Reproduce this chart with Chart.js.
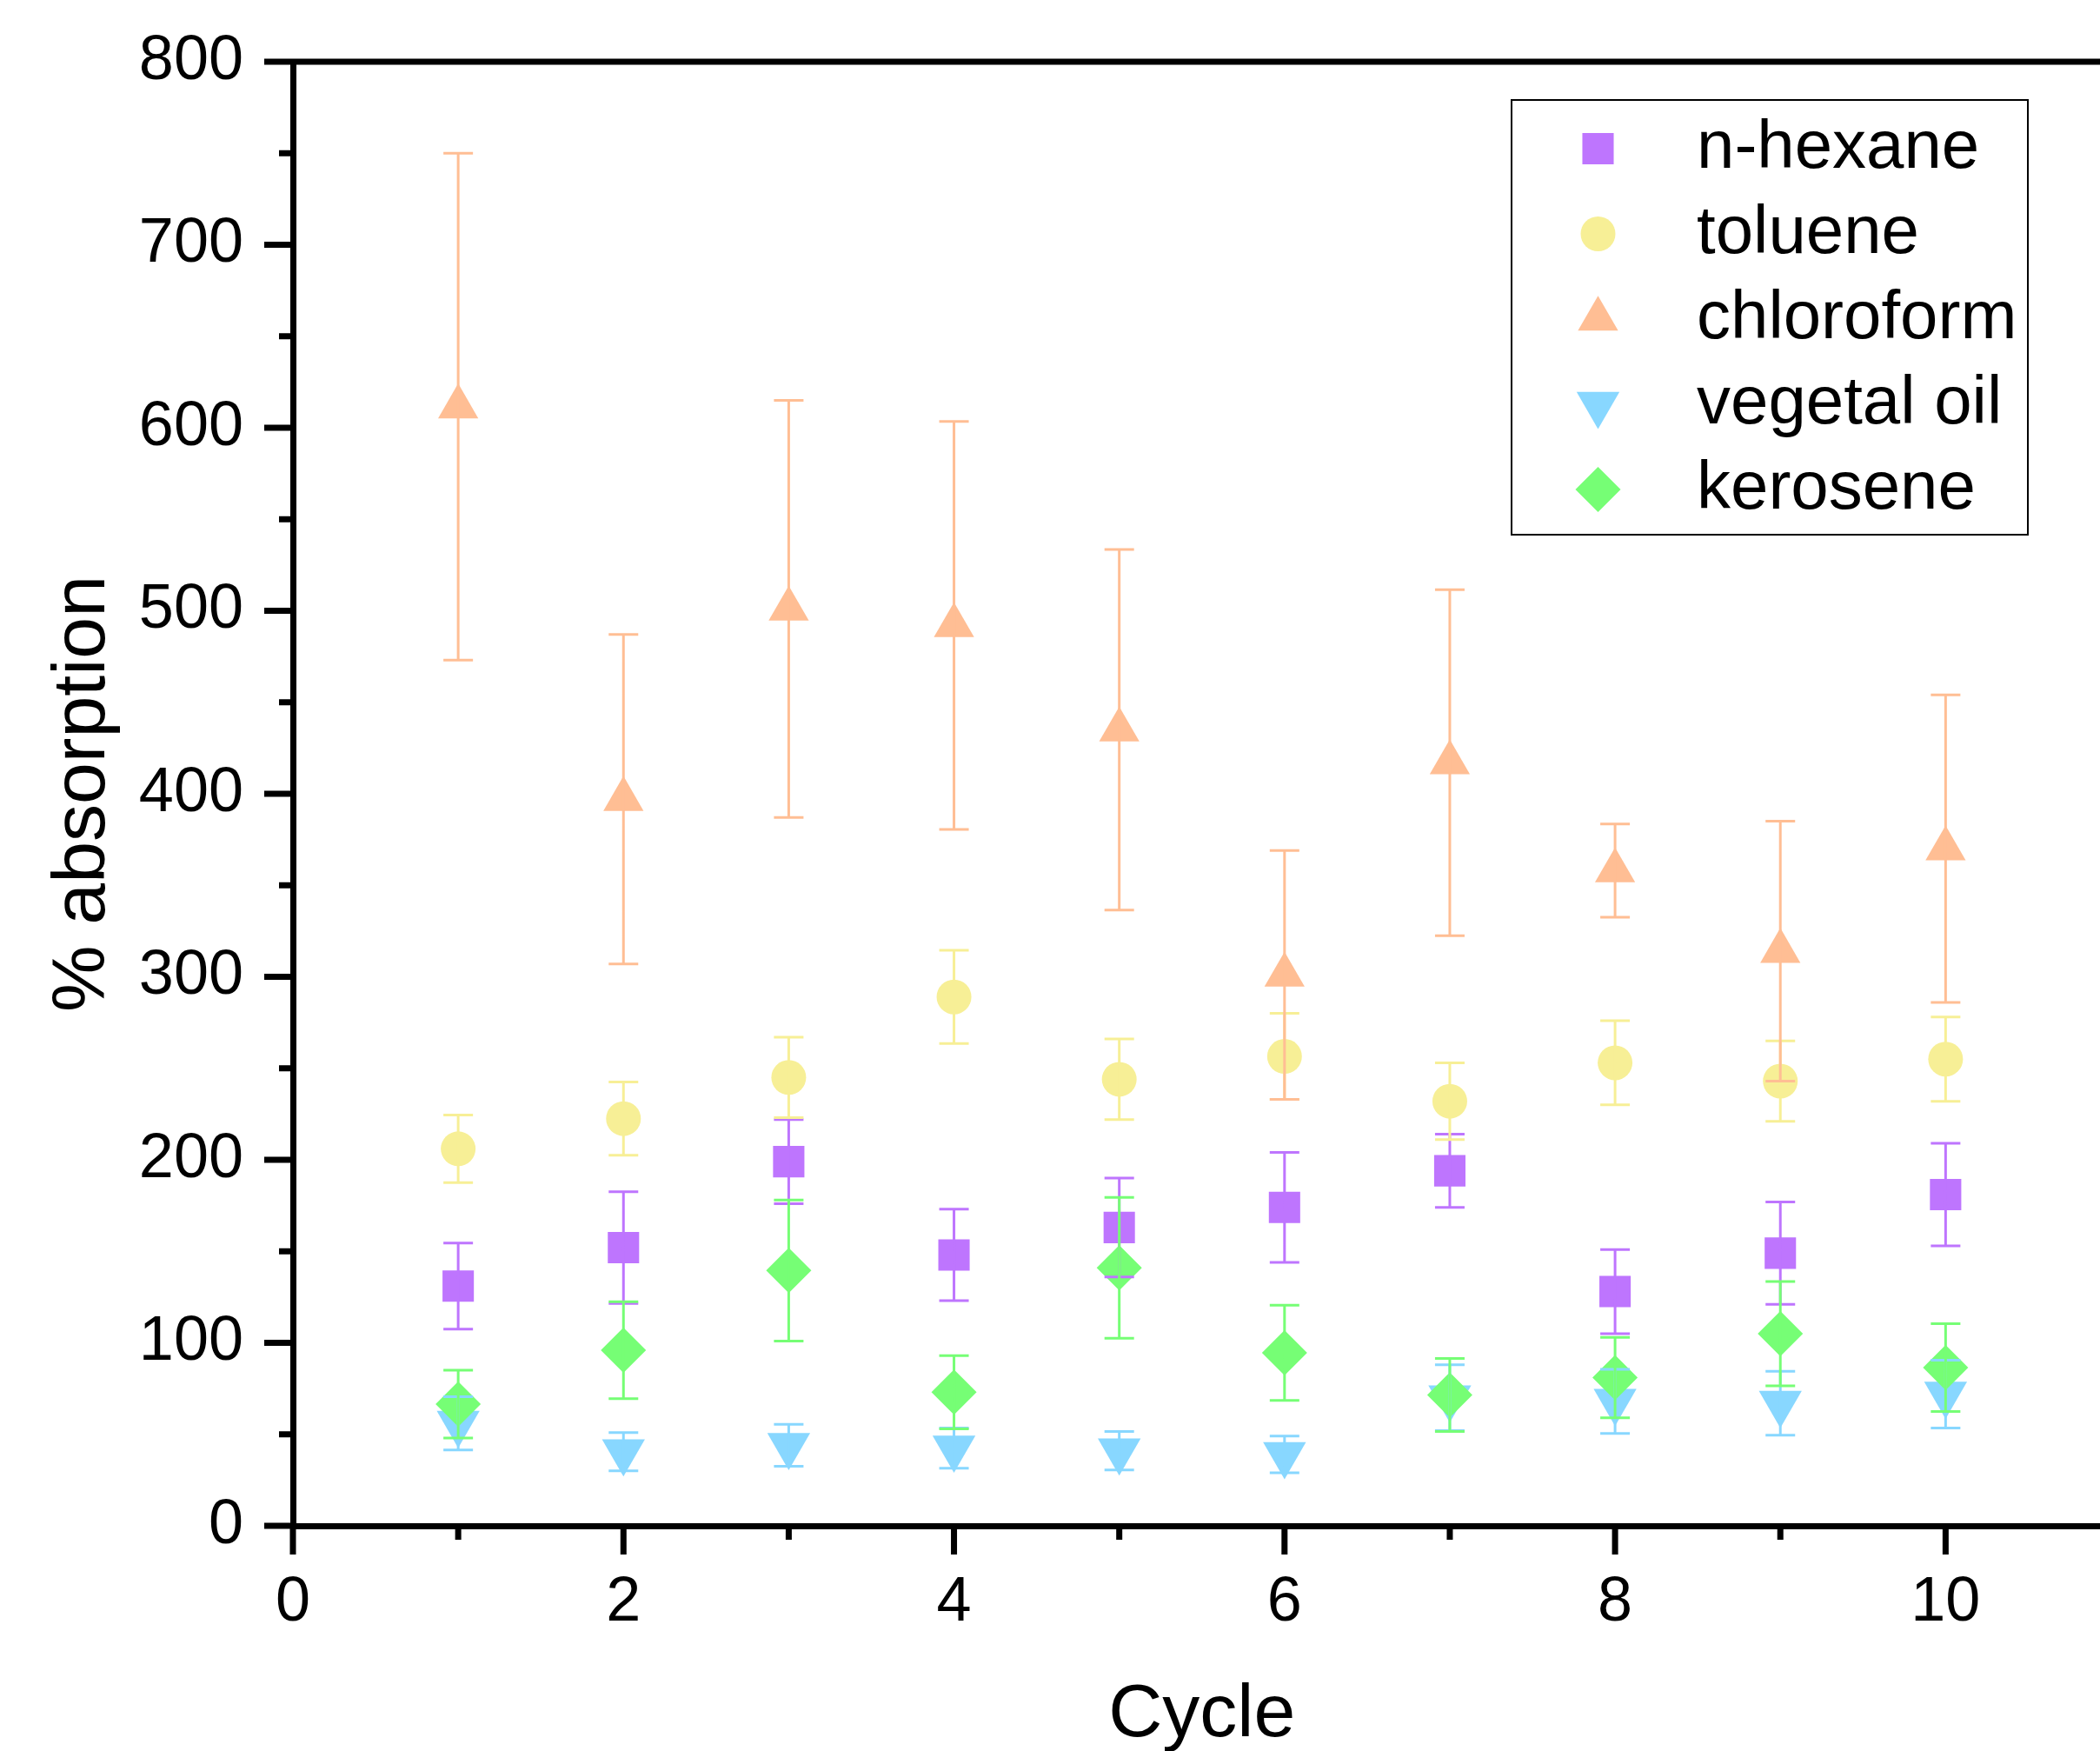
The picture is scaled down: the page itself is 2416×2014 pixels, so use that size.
<!DOCTYPE html>
<html>
<head>
<meta charset="utf-8">
<script src="https://cdn.jsdelivr.net/npm/chart.js@4"></script>
<style>
  html, body { margin: 0; padding: 0; background: #fff; overflow: hidden; }
  #frame { width: 2416px; height: 2014px; overflow: hidden; }
</style>
</head>
<body>
<div id="frame"><canvas id="chart" width="2457" height="2014"></canvas></div>
<script>
const cycles = [1, 2, 3, 4, 5, 6, 7, 8, 9, 10];

const nHexane = [131, 152, 199, 148, 163, 174, 194, 128, 149, 181];
const nHexaneErr = [23.5, 30.5, 23, 25, 27, 30, 20, 23, 28, 28];

const toluene = [206, 222.5, 245, 289, 244, 256.5, 232, 253, 243, 255];
const tolueneErr = [18.5, 20, 22, 25.5, 22, 23.5, 21, 23, 22, 23];

const chloroform = [611.5, 397, 501, 492, 435, 301, 417, 358, 314, 370];
const chloroformErr = [138.5, 90, 114, 111.5, 98.5, 68, 94.5, 25.5, 71, 84];

const vegetalOil = [56, 40.5, 44, 42.5, 41, 39, 70, 68, 67, 72];
const vegetalOilErr = [14.5, 10.5, 11.5, 11, 10.5, 10, 18, 17.5, 17.5, 18.5];

const kerosene = [66.5, 96, 139.5, 73, 141, 94.5, 71.5, 81, 105, 86.5];
const keroseneErr = [18.5, 26.5, 38.5, 20, 38.5, 26, 20, 22, 28.5, 24];

const FONT = '"Liberation Sans", Arial, sans-serif';

function series(label, values, errors, color, style, radius, rotation, order) {
    return {
        label: label,
        data: cycles.map((c, i) => ({ x: c, y: values[i] })),
        err: errors,
        backgroundColor: color,
        borderColor: color,
        pointStyle: style,
        pointRadius: radius,
        pointRotation: rotation,
        pointBorderWidth: 0,
        showLine: false,
        order: order
    };
}

// same shapes as Chart.js point styles, for the legend
function drawMarker(ctx, style, rotation, r, x, y) {
    const rad = rotation * Math.PI / 180;
    ctx.beginPath();
    if (style === 'circle') {
        ctx.arc(x, y, r, 0, Math.PI * 2);
    } else if (style === 'rect') {
        const s = Math.SQRT1_2 * r;
        ctx.rect(x - s, y - s, 2 * s, 2 * s);
    } else if (style === 'rectRot') {
        ctx.moveTo(x - r, y);
        ctx.lineTo(x, y - r);
        ctx.lineTo(x + r, y);
        ctx.lineTo(x, y + r);
    } else if (style === 'triangle') {
        let a = rad;
        ctx.moveTo(x + Math.sin(a) * r, y - Math.cos(a) * r);
        a += Math.PI * 2 / 3;
        ctx.lineTo(x + Math.sin(a) * r, y - Math.cos(a) * r);
        a += Math.PI * 2 / 3;
        ctx.lineTo(x + Math.sin(a) * r, y - Math.cos(a) * r);
    }
    ctx.closePath();
    ctx.fill();
}

const errorBars = {
    id: 'errorBars',
    afterDatasetsDraw(chart) {
        const { ctx, scales: { x, y } } = chart;
        ctx.save();
        ctx.lineWidth = 3;
        chart.data.datasets.forEach(ds => {
            ctx.strokeStyle = ds.borderColor;
            ctx.beginPath();
            ds.data.forEach((p, i) => {
                const px = x.getPixelForValue(p.x);
                const top = y.getPixelForValue(p.y + ds.err[i]);
                const bot = y.getPixelForValue(p.y - ds.err[i]);
                ctx.moveTo(px, top);
                ctx.lineTo(px, bot);
                ctx.moveTo(px - 17, top);
                ctx.lineTo(px + 17, top);
                ctx.moveTo(px - 17, bot);
                ctx.lineTo(px + 17, bot);
            });
            ctx.stroke();
        });
        ctx.restore();
    }
};

const axisTicks = {
    id: 'axisTicks',
    afterDraw(chart) {
        const { ctx, chartArea: a, scales: { x, y } } = chart;
        ctx.save();
        ctx.strokeStyle = '#000';
        ctx.lineWidth = 7;
        ctx.lineCap = 'butt';
        ctx.beginPath();
        x.ticks.forEach(t => {
            const px = x.getPixelForValue(t.value);
            const len = t.value % 2 === 0 ? 33 : 16;
            ctx.moveTo(px, a.bottom);
            ctx.lineTo(px, a.bottom + len);
        });
        y.ticks.forEach(t => {
            const py = y.getPixelForValue(t.value);
            const len = t.value % 100 === 0 ? 33 : 16;
            ctx.moveTo(a.left, py);
            ctx.lineTo(a.left - len, py);
        });
        ctx.moveTo(a.left, a.top);
        ctx.lineTo(a.right, a.top);
        ctx.stroke();
        ctx.restore();
    }
};

const legendBox = {
    id: 'legendBox',
    afterDraw(chart) {
        const ctx = chart.ctx;
        ctx.save();
        ctx.fillStyle = '#fff';
        ctx.fillRect(1739, 115, 594, 500);
        ctx.lineWidth = 2;
        ctx.strokeStyle = '#000';
        ctx.strokeRect(1739, 115, 594, 500);
        ctx.font = '78px ' + FONT;
        ctx.textBaseline = 'middle';
        ctx.textAlign = 'left';
        chart.data.datasets.forEach((ds, i) => {
            const cy = 171 + i * 98;
            ctx.fillStyle = ds.backgroundColor;
            drawMarker(ctx, ds.pointStyle, ds.pointRotation, ds.pointRadius, 1838.5, cy);
            ctx.fillStyle = '#000';
            ctx.fillText(ds.label, 1952, cy);
        });
        ctx.restore();
    }
};

new Chart(document.getElementById('chart'), {
    type: 'scatter',
    data: {
        datasets: [
            series('n-hexane', nHexane, nHexaneErr, '#be75fe', 'rect', 25.5, 0, 4),
            series('toluene', toluene, tolueneErr, '#f7ef96', 'circle', 20, 0, 3),
            series('chloroform', chloroform, chloroformErr, '#ffbe94', 'triangle', 26.7, 0, 2),
            series('vegetal oil', vegetalOil, vegetalOilErr, '#88d7ff', 'triangle', 28.5, 180, 1),
            series('kerosene', kerosene, keroseneErr, '#76fe75', 'rectRot', 26, 0, 0)
        ]
    },
    options: {
        responsive: false,
        animation: false,
        events: [],
        layout: {
            padding: { top: 71, right: 13, bottom: 0, left: 0 }
        },
        plugins: {
            legend: { display: false },
            tooltip: { enabled: false }
        },
        scales: {
            x: {
                type: 'linear',
                min: 0,
                max: 11,
                afterFit: s => { s.height = 259; },
                grid: { display: false, drawTicks: true, tickLength: 33 },
                border: { display: true, color: '#000', width: 7 },
                ticks: {
                    stepSize: 1,
                    padding: 13,
                    color: '#000',
                    maxRotation: 0,
                    autoSkip: false,
                    font: { family: FONT, size: 72 },
                    callback: v => (v % 2 === 0 ? v : '')
                },
                title: {
                    display: true,
                    text: 'Cycle',
                    color: '#000',
                    padding: { top: 0, bottom: 2 },
                    font: { family: FONT, size: 86, lineHeight: 0.9 }
                }
            },
            y: {
                min: 0,
                max: 800,
                afterFit: s => { s.width = 337; },
                grid: { display: false, drawTicks: true, tickLength: 33 },
                border: { display: true, color: '#000', width: 7 },
                ticks: {
                    stepSize: 50,
                    padding: 24,
                    color: '#000',
                    autoSkip: false,
                    font: { family: FONT, size: 72 },
                    callback: v => (v % 100 === 0 ? v : '')
                },
                title: {
                    display: true,
                    text: '% absorption',
                    color: '#000',
                    padding: { top: 53, bottom: 0 },
                    font: { family: FONT, size: 86, lineHeight: 1 }
                }
            }
        }
    },
    plugins: [errorBars, axisTicks, legendBox]
});
</script>
</body>
</html>
